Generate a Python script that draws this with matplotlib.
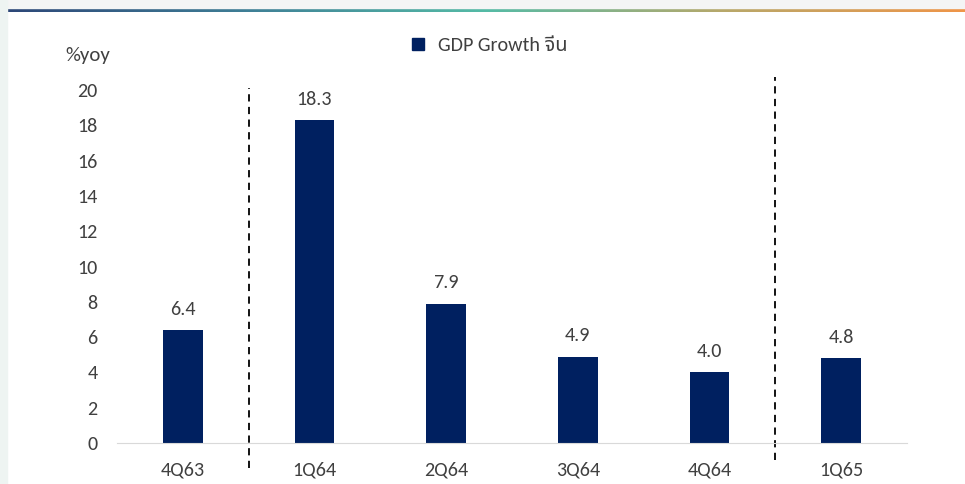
import numpy as np
import matplotlib.pyplot as plt
from matplotlib.colors import LinearSegmentedColormap
from matplotlib.lines import Line2D

plt.rcParams['font.family'] = ['Carlito', 'Open Sans', 'Noto Sans Thai', 'DejaVu Sans']

quarters = ['4Q63', '1Q64', '2Q64', '3Q64', '4Q64', '1Q65']
gdp_growth = [6.4, 18.3, 7.9, 4.9, 4.0, 4.8]
y_ticks = [0, 2, 4, 6, 8, 10, 12, 14, 16, 18, 20]

bar_color = '#002060'
text_color = '#404040'

fig = plt.figure(figsize=(9.65, 4.84), dpi=100)

# light header strip and gradient rule along the top
fig.patches.append(plt.Rectangle((0, 1 - 8 / 484), 1, 8 / 484, transform=fig.transFigure,
                                 color='#f4f5f5', zorder=0))
fig.patches.append(plt.Rectangle((0, 0), 7 / 965, 1, transform=fig.transFigure,
                                 color='#eef4f2', zorder=0))
grad_ax = fig.add_axes([7 / 965, 1 - 12 / 484, 1 - 7 / 965, 4 / 484])
cmap = LinearSegmentedColormap.from_list('rule', ['#2d4778', '#3f7f96', '#55bba6', '#b8a86a', '#ef9548'])
grad_ax.imshow(np.linspace(0, 1, 256)[None, :], aspect='auto', cmap=cmap)
grad_ax.axis('off')

ax = fig.add_axes([117 / 965, 41 / 484, 790 / 965, 353 / 484])
x = np.arange(len(quarters))
bars = ax.bar(x, gdp_growth, width=0.3, color=bar_color, zorder=2)

for xi, v in zip(x, gdp_growth):
    ax.annotate(f'{v:.1f}', (xi, v), xytext=(0, 9), textcoords='offset points',
                ha='center', va='bottom', fontsize=14.5, color=text_color)

ax.set_xlim(-0.5, len(quarters) - 0.5)
ax.set_ylim(0, 20)
ax.set_yticks(y_ticks)
ax.set_xticks(x)
ax.set_xticklabels(quarters)
ax.tick_params(axis='both', length=0, labelsize=14.5, labelcolor=text_color)
ax.tick_params(axis='y', pad=14)
ax.tick_params(axis='x', pad=13)
for side in ['top', 'right', 'left']:
    ax.spines[side].set_visible(False)
ax.spines['bottom'].set_color('#d9d9d9')

# dashed separators between years
ax.axvline(0.5, ymin=-0.071, ymax=1.006, color='black', linestyle=(0, (4, 3)),
           linewidth=1.3, clip_on=False)
ax.axvline(4.5, ymin=-0.048, ymax=1.037, color='black', linestyle=(0, (4, 3)),
           linewidth=1.3, clip_on=False)

fig.text(88 / 965, 1 - 55 / 484, '%yoy', ha='center', va='center', fontsize=15, color=text_color)

handle = Line2D([], [], marker='s', linestyle='none', markersize=8, color=bar_color)
fig.legend([handle], ['GDP Growth จีน'], loc='center', bbox_to_anchor=(0.5, 1 - 45 / 484),
           frameon=False, fontsize=14.5, handletextpad=0.0, labelcolor=text_color)

fig.savefig('out.png', dpi=100)
